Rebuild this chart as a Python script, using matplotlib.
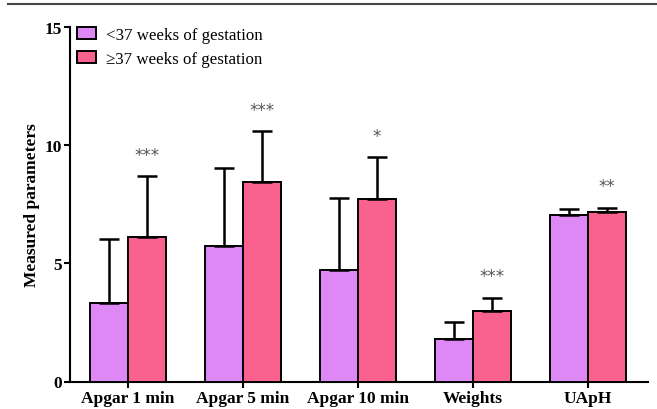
import matplotlib
matplotlib.use("Agg")
import matplotlib.pyplot as plt
import numpy as np
from matplotlib.patches import Patch
from matplotlib.lines import Line2D

# ====== DATA ======
categories = ["Apgar 1 min", "Apgar 5 min", "Apgar 10 min", "Weights", "UApH"]
preterm    = [3.33, 5.73, 4.73, 1.78, 7.06]   # <37 weeks
preterm_sd = [2.71, 3.29, 3.04, 0.75, 0.24]
term       = [6.10, 8.46, 7.71, 2.98, 7.19]   # >=37 weeks
term_sd    = [2.60, 2.13, 1.78, 0.57, 0.17]
stars      = ["***", "***", "*", "***", "**"]
labels     = ["<37 weeks of gestation", "\u226537 weeks of gestation"]

PURPLE = "#DD88F5"
PINK   = "#F9628F"

plt.rcParams["font.family"] = ["Liberation Serif", "DejaVu Serif"]

W, H = 657, 410
fig = plt.figure(figsize=(W / 100, H / 100), dpi=100)
ax = fig.add_axes([70 / W, 27.5 / H, (648 - 70) / W, (382 - 27.5) / H])

x = np.arange(len(categories))
bw = 0.33
err_kw = dict(ecolor="black", elinewidth=1.8, capsize=7.5, capthick=1.8)

ax.bar(x - bw / 2, preterm, bw, color=PURPLE, edgecolor="black", linewidth=1.4,
       yerr=[np.zeros(len(x)), preterm_sd], error_kw=err_kw, zorder=3)
ax.bar(x + bw / 2, term, bw, color=PINK, edgecolor="black", linewidth=1.4,
       yerr=[np.zeros(len(x)), term_sd], error_kw=err_kw, zorder=3)

# significance marks above the >=37 week bars
for i, s in enumerate(stars):
    ax.text(x[i] + bw / 2, term[i] + term_sd[i] + 0.9, s, ha="center", va="center",
            fontsize=12, color="#555555", family="DejaVu Sans")

ax.set_xlim(-0.504, 4.52)
ax.set_ylim(0, 15)
ax.set_yticks([0, 5, 10, 15])
ax.set_xticks(x)
ax.set_xticklabels(categories, fontsize=12.5, fontweight="bold")
for lbl in ax.get_yticklabels():
    lbl.set_fontsize(12.5)
    lbl.set_fontweight("bold")
ax.set_ylabel("Measured parameters", fontsize=12.5, fontweight="bold", labelpad=3)

for side in ("top", "right"):
    ax.spines[side].set_visible(False)
for side in ("left", "bottom"):
    ax.spines[side].set_linewidth(1.5)
ax.tick_params(direction="out", width=1.5, length=4, pad=2)

handles = [Patch(facecolor=PURPLE, edgecolor="black", linewidth=1.4),
           Patch(facecolor=PINK, edgecolor="black", linewidth=1.4)]
fig.legend(handles, labels, loc="upper left", bbox_to_anchor=(77 / W, 1 - 28 / H),
           bbox_transform=fig.transFigure, frameon=False, fontsize=12.2,
           handlelength=1.15, handleheight=0.75, handletextpad=0.55,
           labelspacing=0.45, borderpad=0, borderaxespad=0)

# page rule at the top
fig.add_artist(Line2D([8 / W, 1], [1 - 5 / H, 1 - 5 / H], color="#444444",
                      linewidth=1.5, transform=fig.transFigure))

fig.savefig("out.png", dpi=100)
